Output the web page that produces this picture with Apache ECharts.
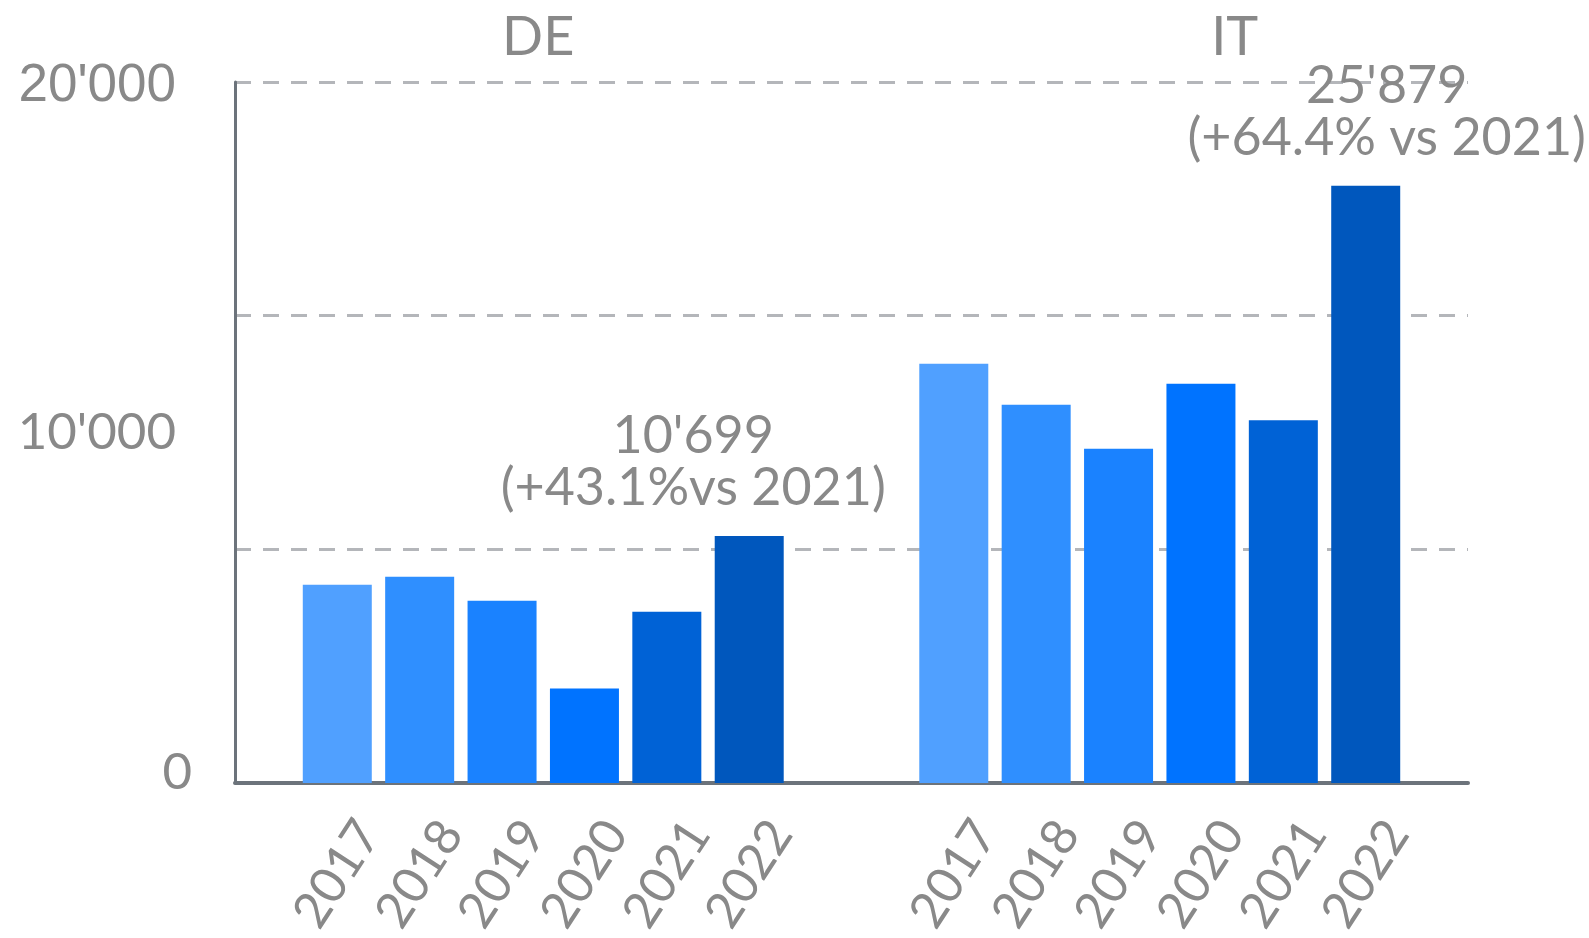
<!DOCTYPE html>
<html><head><meta charset="utf-8">
<script src="https://cdn.jsdelivr.net/npm/echarts@6/dist/echarts.min.js"></script>
<style>html,body{margin:0;padding:0;background:#fff}#c{width:1589px;height:938px}</style>
</head><body><div id="c"></div>
<script>
const countries = ['DE', 'IT'];
const years = ['2017', '2018', '2019', '2020', '2021', '2022'];
const valuesDE = [8595, 8941, 7902, 4092, 7420, 10699];
const valuesIT = [18164, 16389, 14484, 17298, 15720, 25879];
const yTickValues = [0, 10000, 20000];
const yTickLabels = ['0', "10'000", "20'000"];
const annotations = ["10'699\n(+43.1%vs 2021)", "25'879\n(+64.4% vs 2021)"];
const colors = ['#50a0ff', '#2f8fff', '#1a82ff', '#0073ff', '#0062d6', '#0057bd'];
const TEXT = '#898989';
const AXIS = '#6c737b';

const chart = echarts.init(document.getElementById('c'), null, { renderer: 'canvas' });

const series = years.map((y, i) => {
  const s = {
    type: 'bar', name: y, xAxisIndex: 0, yAxisIndex: 0,
    data: [valuesDE[i], valuesIT[i]],
    barWidth: 69, barGap: '19.4%',
    itemStyle: { color: colors[i] },
    label: {
      show: true, position: 'bottom', distance: 91, rotate: 57,
      align: 'center', verticalAlign: 'middle', formatter: '{a}',
      fontFamily: 'Lato', fontSize: 50, color: TEXT
    }
  };
  if (i === years.length - 1) {
    s.markPoint = {
      symbol: 'circle', symbolSize: 0, silent: true,
      label: {
        show: true, position: 'top', distance: 22, formatter: '{b}',
        fontFamily: 'Lato', fontSize: 52, lineHeight: 52, color: TEXT, align: 'center'
      },
      data: [
        { name: annotations[0], coord: [countries[0], valuesDE[i]], label: { offset: [-56, 0] } },
        { name: annotations[1], coord: [countries[1], valuesIT[i]], label: { offset: [21, 0] } }
      ]
    };
  }
  return s;
});

chart.setOption({
  animation: false,
  backgroundColor: '#ffffff',
  grid: { left: 235, right: 121, top: 82, bottom: 155, containLabel: false, outerBoundsMode: 'none' },
  xAxis: [
    {
      type: 'category', data: countries, position: 'bottom',
      axisLine: { show: true, onZero: false, lineStyle: { color: AXIS, width: 4 } },
      axisTick: { show: false }, axisLabel: { show: false }, splitLine: { show: false }
    },
    {
      type: 'category', data: countries, position: 'top',
      axisLine: { show: false }, axisTick: { show: false }, splitLine: { show: false },
      axisLabel: {
        show: true, margin: 17,
        formatter: v => v === 'IT' ? '{r|' + v + '}' : '{l|' + v + '}',
        rich: {
          l: { fontFamily: 'Lato', fontSize: 54, color: TEXT, padding: [0, 10, 0, 0] },
          r: { fontFamily: 'Lato', fontSize: 54, color: TEXT, padding: [0, 0, 0, 150] }
        }
      }
    }
  ],
  yAxis: [
    {
      type: 'value', min: 0, max: 30375, interval: 10125,
      axisLine: { show: true, lineStyle: { color: AXIS, width: 3 } },
      axisTick: { show: false }, axisLabel: { show: false },
      splitLine: { show: true, lineStyle: { color: '#b4b6ba', width: 3, type: [16, 12] } }
    },
    {
      type: 'value', min: 0, max: 20000, interval: 10000, position: 'left',
      axisLine: { show: false }, axisTick: { show: false }, splitLine: { show: false },
      axisLabel: {
        show: true, margin: 43, align: 'right',
        formatter: v => {
          const t = yTickLabels[yTickValues.indexOf(v)];
          if (v === 0) return '{z|' + t + '}';
          if (v === 20000) return '{h|' + t + '}{s| }';
          return '{m|' + t + '}{s| }';
        },
        rich: {
          z: { fontFamily: 'Lato', fontSize: 51, color: TEXT, padding: [0, 0, 20, 0] },
          m: { fontFamily: 'Lato', fontSize: 51, color: TEXT },
          h: { fontFamily: 'Liberation Sans', fontSize: 53, color: TEXT, padding: [8, 0, 0, 0] },
          s: { width: 16, fontSize: 10 }
        }
      }
    }
  ],
  series: series
});
</script>
</body></html>
